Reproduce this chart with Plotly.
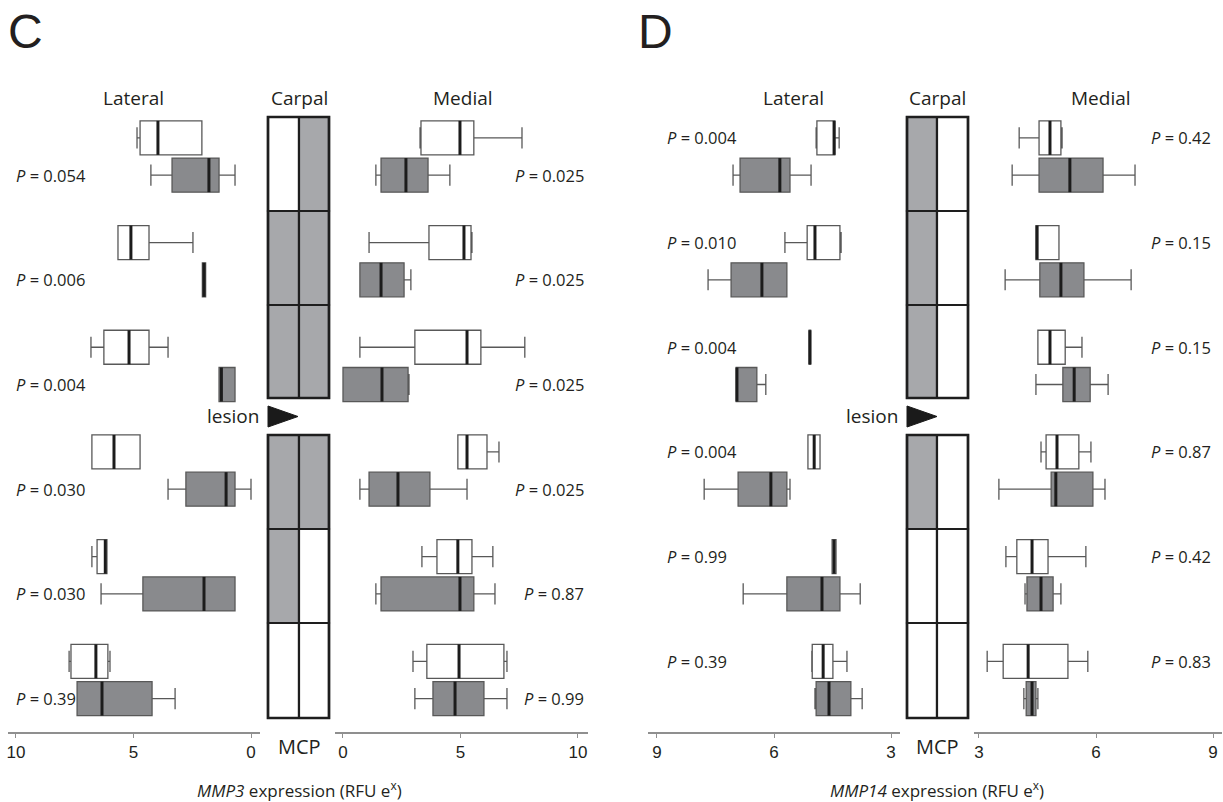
import plotly.graph_objects as go

W, H = 1223, 802

# ---------------- data ----------------
rows = [1, 2, 3, 4, 5, 6]

# Panel C (MMP3) lateral
c_lat_white_lo = [2.09, 2.47, 3.53, 4.72, 6.13, 6.00]
c_lat_white_q1 = [2.09, 4.34, 4.34, 4.72, 6.13, 6.09]
c_lat_white_med = [3.96, 5.11, 5.19, 5.83, 6.20, 6.60]
c_lat_white_q3 = [4.72, 5.66, 6.26, 6.77, 6.55, 7.66]
c_lat_white_hi = [4.85, 5.66, 6.81, 6.77, 6.77, 7.74]

c_lat_gray_lo = [0.68, 1.93, 0.68, 0.00, 0.68, 3.23]
c_lat_gray_q1 = [1.36, 1.93, 0.68, 0.68, 0.68, 4.21]
c_lat_gray_med = [1.79, 2.00, 1.26, 1.06, 2.00, 6.34]
c_lat_gray_q3 = [3.36, 2.07, 1.36, 2.77, 4.60, 7.40]
c_lat_gray_hi = [4.26, 2.07, 1.36, 3.53, 6.38, 7.40]

# Panel C medial
c_med_white_lo = [3.28, 1.11, 0.72, 4.89, 3.36, 2.98]
c_med_white_q1 = [3.32, 3.66, 3.06, 4.89, 4.00, 3.57]
c_med_white_med = [4.98, 5.15, 5.28, 5.28, 4.89, 4.94]
c_med_white_q3 = [5.57, 5.45, 5.87, 6.13, 5.49, 6.85]
c_med_white_hi = [7.62, 5.49, 7.74, 6.64, 6.38, 6.98]

c_med_gray_lo = [1.40, 0.72, 0.00, 0.72, 1.40, 3.06]
c_med_gray_q1 = [1.62, 0.72, 0.00, 1.11, 1.62, 3.83]
c_med_gray_med = [2.68, 1.62, 1.66, 2.34, 4.98, 4.77]
c_med_gray_q3 = [3.62, 2.60, 2.77, 3.70, 5.57, 6.00]
c_med_gray_hi = [4.55, 2.89, 2.81, 5.28, 6.47, 6.98]

# Panel D (MMP14) lateral
d_lat_white_lo = [4.33, 4.28, 5.06, 4.82, 4.41, 4.13]
d_lat_white_q1 = [4.44, 4.31, 5.06, 4.82, 4.41, 4.49]
d_lat_white_med = [4.46, 4.95, 5.08, 4.97, 4.46, 4.74]
d_lat_white_q3 = [4.90, 5.15, 5.10, 5.13, 4.51, 5.02]
d_lat_white_hi = [4.92, 5.72, 5.10, 5.13, 4.51, 5.03]

d_lat_gray_lo = [5.05, 5.67, 6.21, 5.59, 3.79, 3.74]
d_lat_gray_q1 = [5.59, 5.67, 6.44, 5.67, 4.31, 4.03]
d_lat_gray_med = [5.85, 6.31, 6.95, 6.08, 4.77, 4.59]
d_lat_gray_q3 = [6.87, 7.10, 6.97, 6.92, 5.67, 4.92]
d_lat_gray_hi = [7.05, 7.69, 6.97, 7.79, 6.79, 4.95]

# Panel D medial
d_med_white_lo = [4.03, 4.46, 4.51, 4.59, 3.69, 3.21]
d_med_white_q1 = [4.54, 4.46, 4.51, 4.72, 3.97, 3.62]
d_med_white_med = [4.82, 4.49, 4.82, 5.00, 4.36, 4.26]
d_med_white_q3 = [5.10, 5.05, 5.21, 5.56, 4.77, 5.28]
d_med_white_hi = [5.13, 5.05, 5.64, 5.87, 5.74, 5.79]

d_med_gray_lo = [3.85, 3.67, 4.46, 3.51, 4.18, 4.15]
d_med_gray_q1 = [4.54, 4.56, 5.15, 4.85, 4.23, 4.21]
d_med_gray_med = [5.33, 5.10, 5.44, 4.97, 4.59, 4.36]
d_med_gray_q3 = [6.18, 5.69, 5.85, 5.92, 4.90, 4.46]
d_med_gray_hi = [7.00, 6.90, 6.31, 6.23, 5.10, 4.51]

# P values
c_lat_p = ["0.054", "0.006", "0.004", "0.030", "0.030", "0.39"]
c_med_p = ["0.025", "0.025", "0.025", "0.025", "0.87", "0.99"]
d_lat_p = ["0.004", "0.010", "0.004", "0.004", "0.99", "0.39"]
d_med_p = ["0.42", "0.15", "0.15", "0.87", "0.42", "0.83"]

# carpal/MCP diagram (1 = grey cell), rows top->bottom, [left, right]
c_carpal = [[0, 1], [1, 1], [1, 1], [1, 1], [1, 0], [0, 0]]
d_carpal = [[1, 0], [1, 0], [1, 0], [1, 0], [0, 0], [0, 0]]

c_ticks = [10, 5, 0]
d_ticks = [9, 6, 3]

# ---------------- styling / layout helpers ----------------
OFF = 0.178
BOXW = 0.325
GRAY_BOX = "#898a8d"
GRAY_CELL = "#a7a8ab"
OUTLINE = "#585858"
MED = "#1c1c1c"
TXT = "#231f20"
SANS = "Open Sans"
TICKF = "Liberation Sans, Arial"

white_pos = [r - OFF for r in rows]
gray_pos = [r + OFF for r in rows]

fig = go.Figure()


def add_boxes(ax, pos, lo, q1, med, q3, hi, fill):
    fig.add_trace(go.Box(
        y=pos, lowerfence=lo, q1=q1, median=med, q3=q3, upperfence=hi,
        orientation="h", xaxis=ax, yaxis="y", boxpoints=False,
        width=BOXW, whiskerwidth=0.62, fillcolor=fill,
        line=dict(color=OUTLINE, width=1.3), hoverinfo="skip"))
    xs, ys = [], []
    for p, m in zip(pos, med):
        xs += [m, m, None]
        ys += [p - BOXW / 2, p + BOXW / 2, None]
    fig.add_trace(go.Scatter(x=xs, y=ys, mode="lines", xaxis=ax, yaxis="y",
                             line=dict(color=MED, width=3), hoverinfo="skip"))


add_boxes("x", white_pos, c_lat_white_lo, c_lat_white_q1, c_lat_white_med, c_lat_white_q3, c_lat_white_hi, "white")
add_boxes("x", gray_pos, c_lat_gray_lo, c_lat_gray_q1, c_lat_gray_med, c_lat_gray_q3, c_lat_gray_hi, GRAY_BOX)
add_boxes("x2", white_pos, c_med_white_lo, c_med_white_q1, c_med_white_med, c_med_white_q3, c_med_white_hi, "white")
add_boxes("x2", gray_pos, c_med_gray_lo, c_med_gray_q1, c_med_gray_med, c_med_gray_q3, c_med_gray_hi, GRAY_BOX)
add_boxes("x3", white_pos, d_lat_white_lo, d_lat_white_q1, d_lat_white_med, d_lat_white_q3, d_lat_white_hi, "white")
add_boxes("x3", gray_pos, d_lat_gray_lo, d_lat_gray_q1, d_lat_gray_med, d_lat_gray_q3, d_lat_gray_hi, GRAY_BOX)
add_boxes("x4", white_pos, d_med_white_lo, d_med_white_q1, d_med_white_med, d_med_white_q3, d_med_white_hi, "white")
add_boxes("x4", gray_pos, d_med_gray_lo, d_med_gray_q1, d_med_gray_med, d_med_gray_q3, d_med_gray_hi, GRAY_BOX)


def px(x):
    return x / W


def py(y):
    return 1 - y / H


axis_common = dict(anchor="y", showline=True, linecolor="#8f8f8f", linewidth=1.5,
                   ticks="outside", ticklen=4, tickwidth=1.2, tickcolor="#8f8f8f",
                   showgrid=False, zeroline=False, fixedrange=True,
                   tickfont=dict(family=TICKF, size=17, color=TXT))

layout = dict(
    width=W, height=H, margin=dict(l=0, r=0, t=0, b=0),
    paper_bgcolor="white", plot_bgcolor="rgba(0,0,0,0)", showlegend=False,
    yaxis=dict(domain=[(H - 732) / H, 1], range=[6.497, -0.4947], visible=False, fixedrange=True),
    xaxis=dict(domain=[px(8), px(260)], range=[10.34, -0.383], tickvals=c_ticks, **axis_common),
    xaxis2=dict(domain=[px(335), px(588)], range=[-0.34, 10.43], tickvals=c_ticks, **axis_common),
    xaxis3=dict(domain=[px(648), px(900)], range=[9.23, 2.77], tickvals=d_ticks, **axis_common),
    xaxis4=dict(domain=[px(974), px(1222)], range=[2.872, 9.23], tickvals=d_ticks, **axis_common),
)
fig.update_layout(**layout)

shapes = []
annotations = []

# carpal / MCP grids
row_edges = [(117, 211), (211, 305), (305, 398), (435, 529), (529, 623), (623, 718)]
for pattern, (xl, xm, xr) in [(c_carpal, (268, 299, 329)), (d_carpal, (907, 937, 968))]:
    for (y0, y1), cells in zip(row_edges, pattern):
        for (a, b), g in zip([(xl, xm), (xm, xr)], cells):
            shapes.append(dict(type="rect", xref="paper", yref="paper",
                               x0=px(a), x1=px(b), y0=py(y1), y1=py(y0),
                               fillcolor=GRAY_CELL if g else "white",
                               line=dict(color="#1e1e1e", width=2.2), layer="above"))
    for (y0, y1) in [(117, 398), (435, 718)]:
        shapes.append(dict(type="rect", xref="paper", yref="paper",
                           x0=px(xl), x1=px(xr), y0=py(y1), y1=py(y0),
                           fillcolor="rgba(0,0,0,0)", line=dict(color="#1e1e1e", width=2.6), layer="above"))
    # lesion arrowhead
    shapes.append(dict(type="path", xref="paper", yref="paper",
                       path=f"M {px(xl)},{py(406)} L {px(xl + 30)},{py(416.5)} L {px(xl)},{py(427)} Z",
                       fillcolor="#1a1a1a", line=dict(color="#1a1a1a", width=1)))
    annotations.append(dict(text="lesion", xref="paper", yref="paper", x=px(xl - 7), y=py(416),
                            xanchor="right", yanchor="middle", showarrow=False,
                            font=dict(family=SANS, size=19, color=TXT)))
    annotations.append(dict(text="MCP", xref="paper", yref="paper", x=px(xm), y=py(746),
                            xanchor="center", yanchor="middle", showarrow=False,
                            font=dict(family=SANS, size=20, color=TXT)))
    annotations.append(dict(text="Carpal", xref="paper", yref="paper", x=px(xm), y=py(98),
                            xanchor="center", yanchor="middle", showarrow=False,
                            font=dict(family=SANS, size=19, color=TXT)))

# headers
for txt, x in [("Lateral", 133), ("Medial", 463), ("Lateral", 793), ("Medial", 1101)]:
    annotations.append(dict(text=txt, xref="paper", yref="paper", x=px(x), y=py(98),
                            xanchor="center", yanchor="middle", showarrow=False,
                            font=dict(family=SANS, size=19, color=TXT)))

# panel letters
for txt, x in [("C", 6), ("D", 636)]:
    annotations.append(dict(text=txt, xref="paper", yref="paper", x=px(x), y=py(32),
                            xanchor="left", yanchor="middle", showarrow=False,
                            font=dict(family="Liberation Sans, Arial", size=48, color=TXT)))

# P values
pfont = dict(family=SANS, size=16.5, color=TXT)
for p, pos in zip(c_lat_p, gray_pos):
    annotations.append(dict(text=f"<i>P</i> = {p}", xref="paper", yref="y", x=px(14), y=pos,
                            xanchor="left", yanchor="middle", showarrow=False, font=pfont))
for p, pos in zip(c_med_p, gray_pos):
    annotations.append(dict(text=f"<i>P</i> = {p}", xref="paper", yref="y", x=px(586), y=pos,
                            xanchor="right", yanchor="middle", showarrow=False, font=pfont))
for p, pos in zip(d_lat_p, white_pos):
    annotations.append(dict(text=f"<i>P</i> = {p}", xref="paper", yref="y", x=px(665), y=pos,
                            xanchor="left", yanchor="middle", showarrow=False, font=pfont))
for p, pos in zip(d_med_p, white_pos):
    annotations.append(dict(text=f"<i>P</i> = {p}", xref="paper", yref="y", x=px(1149), y=pos,
                            xanchor="left", yanchor="middle", showarrow=False, font=pfont))

# axis titles
for txt, x in [("<i>MMP3</i> expression (RFU e<sup>x</sup>)", 299),
               ("<i>MMP14</i> expression (RFU e<sup>x</sup>)", 937)]:
    annotations.append(dict(text=txt, xref="paper", yref="paper", x=px(x), y=py(789),
                            xanchor="center", yanchor="middle", showarrow=False,
                            font=dict(family=SANS, size=17, color=TXT)))

fig.update_layout(shapes=shapes, annotations=annotations)
fig.write_html("out.html", config={"displayModeBar": False},
               post_script="document.body.style.margin='0';document.body.style.overflow='hidden';")
